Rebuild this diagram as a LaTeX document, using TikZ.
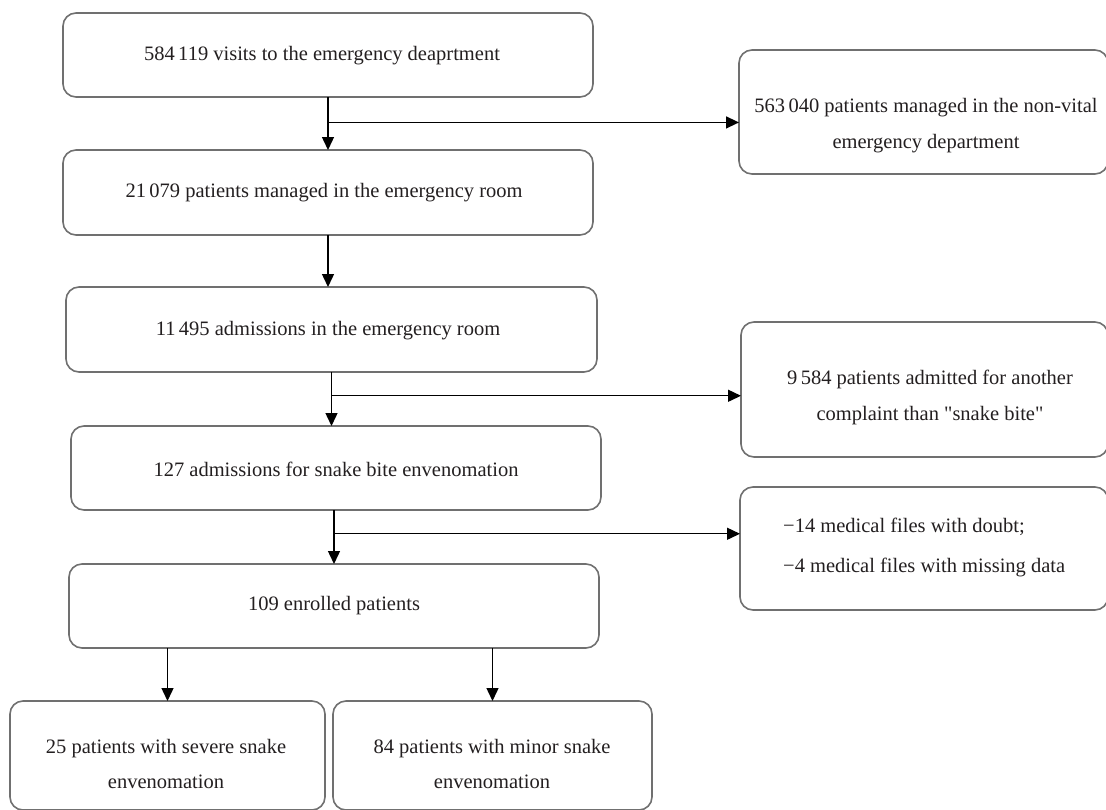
\documentclass[tikz,border=0pt]{standalone}
\usepackage{fontspec}
\setmainfont{Liberation Serif}[Ligatures=TeXOff]
\usetikzlibrary{arrows.meta,calc}
\definecolor{boxgray}{RGB}{112,112,112}
\definecolor{txtcol}{RGB}{35,31,32}
\begin{document}
\begin{tikzpicture}[x=1pt,y=-1pt,
  box/.style={draw=boxgray, line width=1.6pt, rounded corners=13pt, inner sep=0pt, outer sep=0pt},
  txt/.style={text=txtcol, inner sep=0pt, align=center, font=\fontsize{20.5}{35.5}\selectfont},
  arr/.style={draw=black, line width=1.4pt, -{Triangle[length=13pt,width=12pt]}},
  ln/.style={draw=black, line width=1.4pt}]
\useasboundingbox (0,0) rectangle (1106,809);
\clip (0,0) rectangle (1106,809);
% main column boxes
\node[box, minimum width=530pt, minimum height=84pt] (b1) at (328,55) {};
\node[box, minimum width=530pt, minimum height=85pt] (b3) at (328,192.5) {};
\node[box, minimum width=531pt, minimum height=85pt] (b4) at (331.5,329.5) {};
\node[box, minimum width=530pt, minimum height=84pt] (b6) at (336,468) {};
\node[box, minimum width=530pt, minimum height=84pt] (b8) at (334,606) {};
% right boxes
\node[box, minimum width=369pt, minimum height=124pt] (b2) at (923.5,112) {};
\node[box, minimum width=367pt, minimum height=135pt] (b5) at (924.5,389.5) {};
\node[box, minimum width=368pt, minimum height=123pt] (b7) at (924,548.5) {};
% bottom boxes
\node[box, minimum width=315pt, minimum height=109pt] (bl) at (167.5,755.5) {};
\node[box, minimum width=319pt, minimum height=109pt] (br) at (492.5,755.5) {};
% texts
\node[txt] (t1) at (322,56) {584\,119 visits to the emergency deaprtment};
\node[txt] (t3) at (324,193) {21\,079 patients managed in the emergency room};
\node[txt] (t4) at (328,331) {11\,495 admissions in the emergency room};
\node[txt] (t6) at (336,469) {127 admissions for snake bite envenomation};
\node[txt] (t8) at (334,606) {109 enrolled patients};
\node[txt] (t2) at (926,125.5) {563\,040 patients managed in the non-vital\\emergency department};
\node[txt] (t5) at (930,397.5) {9\,584 patients admitted for another\\complaint than "snake bite"};
\node[txt, align=left, anchor=west, font=\fontsize{20.5}{40}\selectfont] (t7) at (783,547) {−14 medical files with doubt;\\−4 medical files with missing data};
\node[txt] (tl) at (166,764) {25 patients with severe snake\\envenomation};
\node[txt] (tr) at (492,764) {84 patients with minor snake\\envenomation};
% connectors
\draw[arr] (b1.south) -- (b3.north);
\coordinate (j1) at ($(b1.south)!0.48!(b3.north)$);
\draw[arr] (j1) -- (j1 -| b2.west);
\draw[arr] (b3.south) -- (b3.south |- b4.north);
\draw[arr] (b4.south) -- (b4.south |- b6.north);
\coordinate (j2) at ($(b4.south)!0.44!(b4.south |- b6.north)$);
\draw[arr] (j2) -- (j2 -| b5.west);
\draw[arr] (b8.north |- b6.south) -- (b8.north);
\coordinate (j3) at ($(b8.north |- b6.south)!0.44!(b8.north)$);
\draw[arr] (j3) -- (j3 -| b7.west);
\draw[arr] (bl.north |- b8.south) -- (bl.north);
\draw[arr] (br.north |- b8.south) -- (br.north);
\end{tikzpicture}
\end{document}
